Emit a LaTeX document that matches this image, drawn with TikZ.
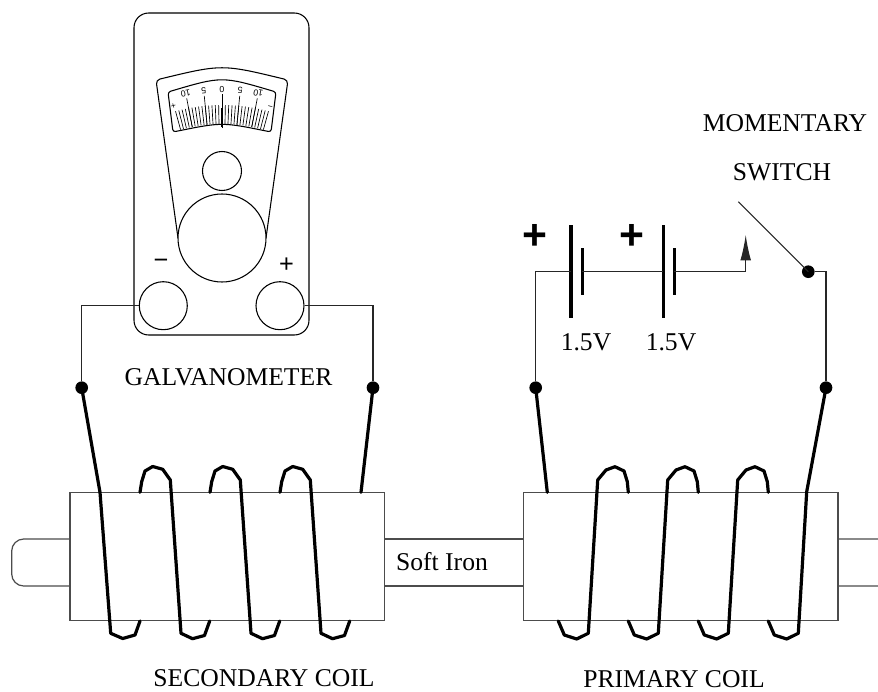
\documentclass[tikz,border=0pt]{standalone}
\usepackage{fontspec}
\setmainfont{Liberation Serif}
\newfontfamily\dialfont{Liberation Sans}
\usetikzlibrary{arrows.meta}
\begin{document}
\begin{tikzpicture}[x=0.75pt,y=-0.75pt,
  outline/.style={line width=0.8pt,draw=black},
  frame/.style={line width=0.9pt,draw=black!70},
  wire/.style={line width=0.8pt,draw=black!85},
  coil/.style={line width=2.4pt,line join=round,line cap=round},
  plate/.style={line width=2.4pt},
  junction/.style={circle,fill=black,inner sep=0pt,minimum size=9.5pt},
  terminal/.style={circle,draw,line width=0.8pt,inner sep=0pt,minimum size=36pt},
  caption/.style={font=\fontsize{19.2}{22}\selectfont,inner sep=0pt,anchor=base},
  dialtext/.style={font=\dialfont\fontsize{6.6}{7}\selectfont,inner sep=0pt},
  tick/.style={line width=0.5pt},
]
\useasboundingbox (0,0) rectangle (878,692);
\clip (0,0) rectangle (878,692);

% ---------- galvanometer ----------
\draw[outline,rounded corners=11pt] (134,13) rectangle (309,335);
\draw[outline,rounded corners=3pt] (178,238) -- (156,80) .. controls (222,64) .. (288,80) -- (266,238);
\draw[outline,fill=white] (222,238) circle[radius=44];
\draw[outline] (222,171) circle[radius=19.5];
% dial window
\draw[outline,rounded corners=2pt] (168,92) .. controls (222,76) .. (276,92) -- (271,132)
  .. controls (222,122) .. (173,132) -- cycle;
\begin{scope}[shift={(222,280)}]
  \foreach \k in {-14,...,14}
    \draw[tick] ({-90+\k*1.1}:156) -- ({-90+\k*1.1}:175);
  \foreach \k/\v in {-10/10,-5/5,5/5,10/10} {
    \draw[tick] ({-90+\k*1.1}:156) -- ({-90+\k*1.1}:185);
    \node[dialtext,rotate={180-\k*1.1}] at ({-90+\k*1.1}:190.5) {\v};
  }
  \node[dialtext] at (-90:190.5) {\rotatebox{180}{0}};
  \node[dialtext,rotate=195] at ({-90-14.2*1.1}:181) {+};
  \node[dialtext,rotate=165] at ({-90+14.2*1.1}:181) {\char"2212};
  \draw[line width=0.6pt] (-90:152) -- (-90:186);
  \draw[line width=2.2pt] (-90:153) -- (-90:172);
\end{scope}
% terminals
\node[terminal] (gminus) at (163.3,305.7) {};
\node[terminal] (gplus) at (280,305.7) {};
\node[font=\dialfont\fontsize{19}{19}\selectfont,inner sep=0pt] (gminuslbl) at (161,264) {\char"2212};
\node[font=\dialfont\fontsize{19}{19}\selectfont,inner sep=0pt] (gpluslbl) at (286.5,264.7) {+};
\node[caption] (galv) at (228.5,385.6) {GALVANOMETER};

% ---------- soft iron rod ----------
\draw[frame,rounded corners=9pt] (70,539) -- (11.7,539) -- (11.7,586) -- (70,586);
\draw[frame,rounded corners=9pt] (838,539) -- (896,539) -- (896,586) -- (838,586);
\draw[frame] (384.3,539) -- (523.3,539);
\draw[frame] (384.3,586) -- (523.3,586);
\node[caption] (iron) at (442,570.5) {Soft Iron};

% ---------- coil formers ----------
\draw[frame,fill=white] (70,492.3) rectangle (384.3,620.7);
\draw[frame,fill=white] (523.3,492.3) rectangle (838,620.7);

% ---------- junctions ----------
\node[junction] (gL) at (81.7,387.7) {};
\node[junction] (gR) at (373,387.7) {};
\node[junction] (bL) at (535.7,387.7) {};
\node[junction] (bR) at (826,387.7) {};
\node[junction] (sw) at (808.3,271.7) {};

% galvanometer leads
\draw[wire] (gminus.west) -| (gL);
\draw[wire] (gplus.east) -| (gR);

% ---------- secondary coil ----------
\draw[coil] (gL.center) -- (100,492.3) -- (110.7,633.3) -- ++(12,5.2) -- ++(12.3,-3.5) -- ++(5,-14);
\foreach \t in {140,210,280}
  \draw[coil] (\t,492.3) -- ++(1.7,-10.6) -- ++(3.3,-10.7) -- ++(7.7,-4.5) -- ++(10,2.8)
    -- ++(7.6,10.7) -- ++(10.7,153.3) -- ++(11.5,5.4) -- ++(12,-3.2) -- ++(5.2,-14.5);
\draw[coil] (361,492.3) -- (gR.center);

% ---------- primary coil ----------
\draw[coil] (bL.center) -- (547.3,492.3);
\foreach \b in {558.3,628.3,698.3}
  \draw[coil] (\b,621) -- ++(6,14) -- ++(12.4,4) -- ++(11.6,-5.7) -- ++(9.4,-153.3)
    -- ++(8.3,-10) -- ++(9,-3.3) -- ++(9,4.3) -- ++(3.3,10.7) -- ++(1,10.6);
\draw[coil] (768.3,621) -- ++(6,14) -- ++(12.4,4) -- ++(11.6,-5.7) -- (806.7,491.7) -- (bR.center);

% ---------- batteries ----------
\coordinate (b1pos) at (571,271.7);
\coordinate (b1neg) at (582.3,271.7);
\coordinate (b2pos) at (663.3,271.7);
\coordinate (b2neg) at (674.3,271.7);
\draw[plate] (571,225) -- (571,318.3);
\draw[plate] (582.3,248.3) -- (582.3,295);
\draw[plate] (663.3,225) -- (663.3,318.3);
\draw[plate] (674.3,248.3) -- (674.3,295);
\node[font=\dialfont\bfseries\fontsize{32}{32}\selectfont,inner sep=0pt] (p1) at (535,236.7) {+};
\node[font=\dialfont\bfseries\fontsize{32}{32}\selectfont,inner sep=0pt] (p2) at (631.7,236.7) {+};
\node[caption] (v1) at (586,350) {1.5V};
\node[caption] (v2) at (671,350) {1.5V};

\draw[wire] (bL) |- (b1pos);
\draw[wire] (b1neg) -- (b2pos);

% ---------- momentary switch ----------
\coordinate (contact) at (745.7,235);
\coordinate (lever) at (738.3,201.7);
\draw[wire,-{Latex[length=19pt,width=8pt]}] (b2neg) -| (contact);
\draw[wire] (lever) -- (sw.center);
\draw[wire] (sw) -| (bR);
\node[caption] (mom) at (785,131.6) {MOMENTARY};
\node[caption] (swl) at (782,180) {SWITCH};

% ---------- captions ----------
\node[caption] (sec) at (264,686) {SECONDARY COIL};
\node[caption] (pri) at (674,687) {PRIMARY COIL};
\end{tikzpicture}
\end{document}
